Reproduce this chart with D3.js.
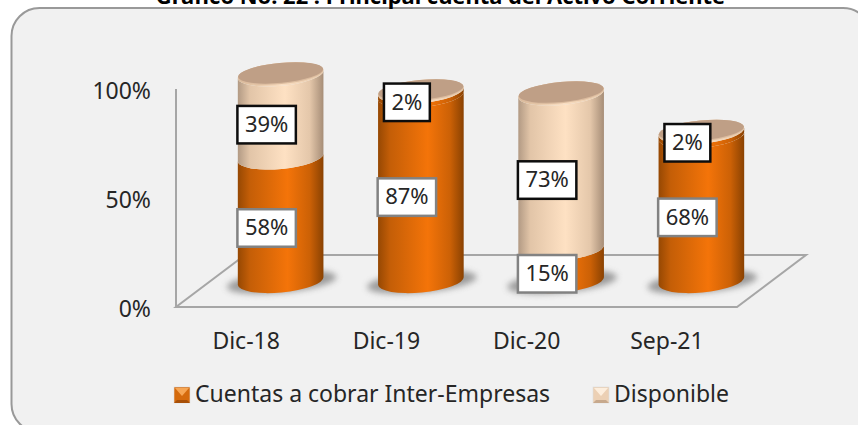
<!DOCTYPE html>
<html><head><meta charset="utf-8">
<script src="https://d3js.org/d3.v7.min.js"></script>
<style>
html,body{margin:0;padding:0;background:#fff;overflow:hidden}
text{font-family:"Noto Sans",sans-serif;fill:#262626}
</style></head><body><svg id="c" width="858" height="425"></svg>
<script>
const titleText = "Gráfico No. 22 : Principal cuenta del Activo Corriente";
const categories = ["Dic-18","Dic-19","Dic-20","Sep-21"];
const seriesNames = ["Cuentas a cobrar Inter-Empresas","Disponible"];
const cuentasValues = [0.58,0.87,0.15,0.68];
const disponibleValues = [0.39,0.02,0.73,0.02];
const yTicks = [0,0.5,1];

const svg = d3.select("#c");
const defs = svg.append("defs");
function sideGrad(id, stops){
  const g = defs.append("linearGradient").attr("id",id).attr("x1","0").attr("x2","1").attr("y1","0").attr("y2","0");
  stops.forEach(([o,c])=>g.append("stop").attr("offset",o).attr("stop-color",c));
}
sideGrad("gOrange",[[0,"#964803"],[0.14,"#c45e07"],[0.58,"#f47409"],[0.84,"#cc6106"],[1,"#8a4202"]]);
sideGrad("gPeach",[[0,"#b29a84"],[0.14,"#e2c5a8"],[0.55,"#fee1c3"],[0.84,"#e4c7aa"],[1,"#a68d77"]]);
const capG = defs.append("linearGradient").attr("id","gRim").attr("x1","0").attr("x2","1").attr("y1","0").attr("y2","0");
[[0,"#d9b998"],[0.5,"#fadfc3"],[1,"#e6c8a9"]].forEach(([o,c])=>capG.append("stop").attr("offset",o).attr("stop-color",c));
defs.append("filter").attr("id","blur").attr("x","-30%").attr("y","-60%").attr("width","160%").attr("height","220%")
  .append("feGaussianBlur").attr("stdDeviation",3);

// panel
svg.append("rect").attr("x",11.5).attr("y",8).attr("width",859.5).attr("height",424).attr("rx",28)
  .attr("fill","#f1f1f1").attr("stroke","#999").attr("stroke-width",2);

// title
svg.append("text").attr("x",440.5).attr("y",3.5).attr("text-anchor","middle")
  .attr("font-size",21.9).attr("font-weight",700).style("fill","#000").text(titleText);

// scales
const x = d3.scaleBand().domain(categories).range([176,737]);
const yAxisScale = d3.scaleLinear().domain([0,1]).range([307,89]);
const yBar = d3.scaleLinear().domain([0,1]).range([281,68]);

// floor + wall line
const gridC = "#a6a6a6";
svg.append("path").attr("d",d3.line()([[176,307],[737,307],[806,255],[245,255]])+"Z")
  .attr("fill","#f1f1f1").attr("stroke",gridC).attr("stroke-width",2);
svg.append("line").attr("x1",176).attr("x2",176).attr("y1",89).attr("y2",307).attr("stroke",gridC).attr("stroke-width",2);

// axes
const yG = svg.append("g").attr("transform","translate(176,0)")
  .call(d3.axisLeft(yAxisScale).tickValues(yTicks).tickFormat(d3.format(".0%")).tickSize(0).tickPadding(25));
yG.select(".domain").remove();
yG.selectAll("text").attr("dy","9.5px").attr("font-size",23).style("fill","#262626");
const xG = svg.append("g").attr("transform","translate(0,349)")
  .call(d3.axisBottom(x).tickSize(0).tickPadding(0));
xG.select(".domain").remove();
xG.selectAll("text").attr("y",0).attr("dy",0).attr("font-size",23).style("fill","#262626");
xG.attr("font-family",null); yG.attr("font-family",null);

// cylinders
const rx=43, ry=11.5, rot=-5.4, rad=rot*Math.PI/180;
const dx=rx*Math.cos(rad), dy=-rx*Math.sin(rad);
const barCx = c => x(c)+x.bandwidth()/2+34.5;
function segPath(cx,y0,y1){
  return `M${cx-dx},${y0+dy} A${rx},${ry} ${rot} 0 0 ${cx+dx},${y0-dy} L${cx+dx},${y1-dy} A${rx},${ry} ${rot} 0 1 ${cx-dx},${y1+dy} Z`;
}
function capEllipse(g,cx,cy,a,b,fill){
  g.append("ellipse").attr("cx",cx).attr("cy",cy).attr("rx",a).attr("ry",b)
    .attr("transform",`rotate(${rot} ${cx} ${cy})`).attr("fill",fill);
}
categories.forEach((c,i)=>{
  const cx=barCx(c), a=cuentasValues[i], b=disponibleValues[i];
  const g=svg.append("g");
  g.append("ellipse").attr("cx",cx+1).attr("cy",yBar(0)+1).attr("rx",rx+12).attr("ry",ry-1)
    .attr("transform",`rotate(${rot} ${cx+1} ${yBar(0)+1})`).attr("fill","#8c8c8c").attr("opacity",0.85).attr("filter","url(#blur)");
  g.append("path").attr("d",segPath(cx,yBar(0),yBar(a))).attr("fill","url(#gOrange)");
  g.append("path").attr("d",segPath(cx,yBar(a),yBar(a+b))).attr("fill",b<0.05?"url(#gOrange)":"url(#gPeach)");
  const top=yBar(a+b);
  capEllipse(g,cx,top,rx,ry,"url(#gRim)");
  capEllipse(g,cx,top-0.9,rx,ry-0.9,"#dcbc9f");
  capEllipse(g,cx,top-1.5,rx-0.3,ry-1.5,"#bf9f86");
});

// data labels
function label(c,mid,v,stroke){
  const cx=barCx(c)-14, cy=yBar(mid)+8.5;
  const g=svg.append("g");
  const r=g.append("rect").attr("fill","#fff").attr("stroke",stroke).attr("stroke-width",2.5);
  const t=g.append("text").attr("x",cx).attr("y",cy+7.5).attr("text-anchor","middle").attr("font-size",22).text(d3.format(".0%")(v));
  const w=t.node().getComputedTextLength()+15;
  r.attr("x",cx-w/2).attr("y",cy-18.5).attr("width",w).attr("height",37.5);
}
categories.forEach((c,i)=>{
  const a=cuentasValues[i], b=disponibleValues[i];
  label(c,a/2,a,"#828282");
  label(c,a+b/2,b,"#0d0d0d");
});

// legend
const legend = [{n:seriesNames[0],sx:174,tx:195,f:"#d56a0c",t:"#f7a654",e:"#a85008"},
                {n:seriesNames[1],sx:593,tx:614,f:"#ecd0b4",t:"#fdeedd",e:"#c7a98d"}];
legend.forEach(l=>{
  const s=16,y0=387;
  svg.append("rect").attr("x",l.sx).attr("y",y0).attr("width",s).attr("height",s).attr("fill",l.f).attr("stroke","#dcdcdc").attr("stroke-width",0.6);
  svg.append("path").attr("d",`M${l.sx+1},${y0+1}L${l.sx+s-1},${y0+1}L${l.sx+s/2},${y0+s/2+1}Z`).attr("fill",l.t);
  svg.append("path").attr("d",`M${l.sx},${y0+s}L${l.sx+s},${y0+s}L${l.sx+s-3},${y0+s-3}L${l.sx+3},${y0+s-3}Z`).attr("fill",l.e);
  svg.append("text").attr("x",l.tx).attr("y",402).attr("font-size",23).text(l.n);
});
</script></body></html>
